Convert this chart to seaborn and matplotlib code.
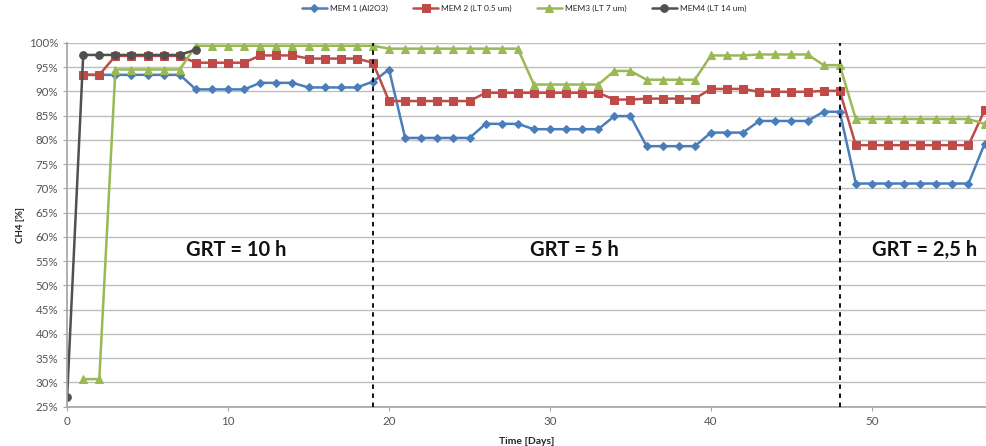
import matplotlib
matplotlib.use("Agg")
import matplotlib.pyplot as plt
import seaborn as sns
import numpy as np
import pandas as pd
from matplotlib.ticker import FuncFormatter, MultipleLocator

# ---- data (CH4 %, one value per day) ----
days_mem1 = list(range(1, 58))
mem1 = ([93.4] * 7 + [90.4] * 4 + [91.75] * 3 + [90.8] * 4 + [92.0] + [94.5]
        + [80.4] * 5 + [83.3] * 3 + [82.2] * 5 + [84.9] * 2 + [78.7] * 4
        + [81.5] * 3 + [83.9] * 4 + [85.8] * 2 + [71.0] * 8 + [79.2])

days_mem2 = list(range(1, 58))
mem2 = ([93.4] * 2 + [97.3] * 5 + [95.9] * 4 + [97.4] * 3 + [96.75] * 4 + [95.9]
        + [88.0] * 6 + [89.7] * 8 + [88.3] * 2 + [88.5] * 4 + [90.5] * 3
        + [89.9] * 4 + [90.1] * 2 + [78.9] * 8 + [86.1])

days_mem3 = list(range(1, 58))
mem3 = ([30.7] * 2 + [94.5] * 5 + [99.4] * 12 + [98.8] * 9 + [91.4] * 5
        + [94.2] * 2 + [92.4] * 4 + [97.4] * 3 + [97.6] * 4 + [95.4] * 2
        + [84.3] * 8 + [83.3])

days_mem4 = list(range(0, 9))
mem4 = [27.0] + [97.5] * 7 + [98.6]

series_labels = ["MEM 1 (Al2O3)", "MEM 2 (LT 0.5 um)", "MEM3 (LT 7 um)", "MEM4 (LT 14 um)"]
phase_bounds = [19, 48]
phase_labels = ["GRT = 10 h", "GRT = 5 h", "GRT = 2,5 h"]
phase_label_x = [10.5, 31.5, 53.3]

colors = ["#4A7EBB", "#BE4B48", "#98B954", "#505050"]
markers = ["D", "s", "^", "o"]
msizes = [4.5, 6.2, 5.5, 5.5]

sns.set_theme(style="white")
plt.rcParams["font.family"] = ["Lato", "DejaVu Sans"]

fig = plt.figure(figsize=(9.87, 4.46), dpi=100)
ax = fig.add_axes([0.068, 0.088, 0.932, 0.816])

all_days = [days_mem1, days_mem2, days_mem3, days_mem4]
all_vals = [mem1, mem2, mem3, mem4]
for d, v, lab, c, m, ms in zip(all_days, all_vals, series_labels, colors, markers, msizes):
    df = pd.DataFrame({"day": d, "ch4": v})
    sns.lineplot(data=df, x="day", y="ch4", ax=ax, color=c, marker=m,
                 markersize=ms, markeredgecolor=c, linewidth=1.8, label=lab)

for xb in phase_bounds:
    ax.axvline(xb, color="black", linestyle=(0, (2.5, 2.5)), linewidth=1.3, zorder=5)

for x, t in zip(phase_label_x, phase_labels):
    ax.text(x, 57.3, t, ha="center", va="center", fontsize=14.5,
            fontweight="bold", color="#111111")

ax.set_xlim(0, 57.15)
ax.set_ylim(25, 100)
ax.yaxis.set_major_locator(MultipleLocator(5))
ax.xaxis.set_major_locator(MultipleLocator(10))
ax.yaxis.set_major_formatter(FuncFormatter(lambda v, p: f"{v:.0f}%"))
ax.grid(axis="y", color="#BEBEBE", linewidth=1.0)
ax.grid(axis="x", visible=False)
ax.set_axisbelow(True)

for s in ["top", "right"]:
    ax.spines[s].set_visible(False)
ax.spines["left"].set_color("#A6A6A6")
ax.spines["bottom"].set_color("#A6A6A6")
ax.tick_params(axis="both", labelsize=8.3, labelcolor="#555555", colors="#A6A6A6",
               length=3, width=0.8, direction="out", bottom=True, left=True)
for lbl in ax.get_xticklabels() + ax.get_yticklabels():
    lbl.set_color("#555555")

ax.set_xlabel("Time [Days]", fontsize=7.5, fontweight="bold", color="#222222", labelpad=7)
ax.set_ylabel("CH4 [%]", fontsize=7, fontweight="bold", color="#222222", labelpad=3)

ax.legend(loc="center", bbox_to_anchor=(0.497, 1.095), ncol=4, frameon=False,
          fontsize=6, handlelength=3, columnspacing=3.0, handletextpad=0.4)

fig.savefig("out.png", dpi=100)
